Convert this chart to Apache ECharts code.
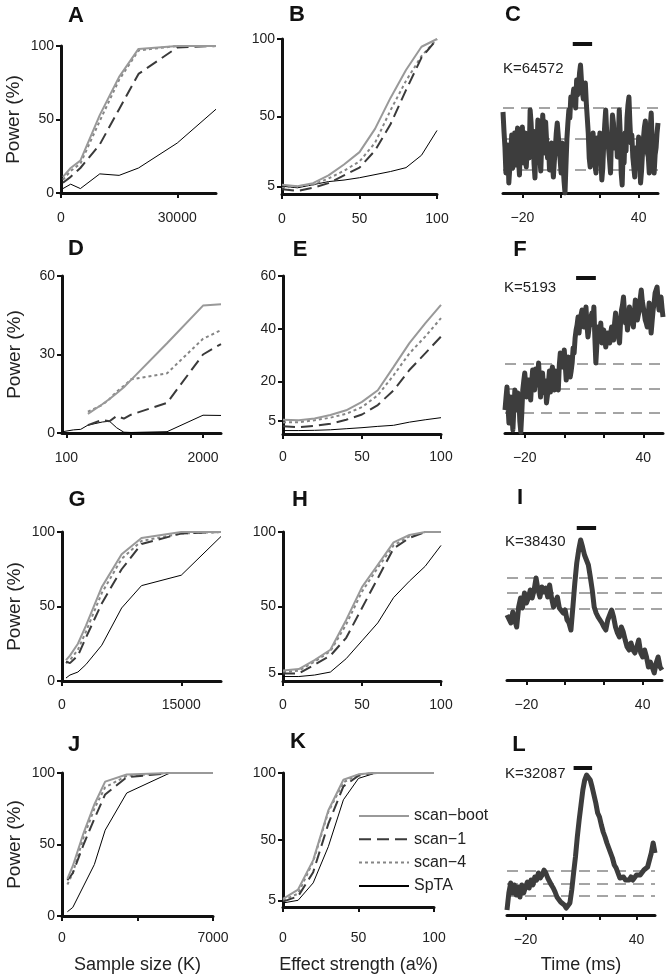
<!DOCTYPE html>
<html><head><meta charset="utf-8">
<script src="https://cdn.jsdelivr.net/npm/echarts@6/dist/echarts.min.js"></script>
<style>html,body{margin:0;padding:0;background:#fff}#c{width:666px;height:977px}</style>
</head><body><div id="c"></div>
<script>
const FONT = '"Liberation Sans", Arial, Helvetica, sans-serif';
const NAMES = ['scan−boot', 'scan−1', 'scan−4', 'SpTA'];

// ---- Panel A (sample size) ----
const A_x = [500, 2500, 5000, 10000, 15000, 20000, 30000, 40000];
const A_boot = [11, 17, 22, 53, 79, 98, 100, 100];
const A_scan1 = [7, 11, 17, 33, 57, 81, 99, 100];
const A_scan4 = [9, 15, 20, 49, 77, 97, 100, 100];
const A_spta = [3, 6, 3, 13, 12, 17, 34, 57];
// ---- Panel B (effect strength) ----
const B_x = [0, 10, 20, 30, 40, 50, 60, 70, 80, 90, 100];
const B_boot = [6, 5, 7, 12, 19, 27, 42, 62, 80, 95, 100];
const B_scan1 = [3, 2, 4, 7, 12, 17, 28, 45, 67, 88, 100];
const B_scan4 = [4, 5, 6, 10, 15, 21, 33, 54, 73, 89, 100];
const B_spta = [5, 4, 6, 8, 9, 10.5, 12.5, 14.5, 17, 25, 41];
// ---- Panel D ----
const D_x = [50, 200, 300, 400, 600, 700, 800, 900, 1000, 1500, 2000, 2250];
const D_boot = [null, null, null, 7.3, 11, 13, 15.2, 17.5, 20.3, 34.3, 48.7, 49.2];
const D_scan1 = [null, null, null, 3, 5, 4.5, 6.5, 5.5, 7, 11.5, 30, 34];
const D_scan4 = [null, null, null, 8.2, 10.7, 13, 15.8, 18, 20.5, 22.8, 36, 39.3];
const D_spta = [0.5, 1.2, 1.4, 3, 4.2, 4.5, 2, 0.3, 0.2, 0.5, 6.8, 6.7];
// ---- Panel E ----
const E_x = [0, 10, 20, 30, 40, 50, 60, 70, 80, 90, 100];
const E_boot = [5.4, 5.2, 5.9, 7.2, 9, 12.2, 16.6, 25.5, 34.5, 42, 49];
const E_scan1 = [2.9, 2.6, 3.1, 3.9, 5.4, 7.4, 11, 16.6, 24.3, 30.6, 37];
const E_scan4 = [4.4, 4.5, 5.2, 6.2, 7.7, 10.2, 14.7, 22.3, 30.6, 37, 44];
const E_spta = [1.3, 1.3, 1.4, 1.6, 2, 2.4, 2.9, 3.3, 4.5, 5.4, 6.2];
// ---- Panel G ----
const G_x = [500, 1000, 2000, 3000, 5000, 7500, 10000, 15000, 20000];
const G_boot = [14, 17, 25, 37, 63, 85, 96, 100, 100];
const G_scan1 = [13, 12, 17, 29, 52, 75, 92, 99, 100];
const G_scan4 = [12, 14, 21, 33, 59, 82, 94, 99, 100];
const G_spta = [2, 4, 6, 11, 24, 49, 64, 71, 97];
// ---- Panel H ----
const H_x = [0, 10, 20, 30, 40, 50, 60, 70, 80, 90, 100];
const H_boot = [7, 8, 14, 21, 41, 63, 78, 93, 98, 100, 100];
const H_scan1 = [5, 5, 11, 17, 29, 49, 69, 89, 96, 100, 100];
const H_scan4 = [6, 7, 13, 20, 38, 60, 76, 91, 97, 100, 100];
const H_spta = [3, 3, 4, 6, 15, 27, 39, 56, 67, 77, 91];
// ---- Panel J ----
const J_x = [250, 500, 1000, 1500, 2000, 3000, 5000, 7000];
const J_boot = [26, 35, 58, 78, 94, 99, 100, 100];
const J_scan1 = [25, 30, 50, 68, 85, 97, 100, 100];
const J_scan4 = [22, 30, 55, 75, 90, 98, 100, 100];
const J_spta = [3, 6, 21, 36, 60, 86, 100, 100];
// ---- Panel K ----
const K_x = [0, 10, 20, 30, 40, 50, 60, 70, 80, 90, 100];
const K_boot = [6, 13, 35, 72, 95, 99, 100, 100, 100, 100, 100];
const K_scan1 = [4, 8, 26, 62, 90, 98, 100, 100, 100, 100, 100];
const K_scan4 = [5, 10, 34, 71, 93, 99, 100, 100, 100, 100, 100];
const K_spta = [3, 5, 18, 45, 80, 96, 99.5, 100, 100, 100, 100];

// ---- Example traces (time in ms, arbitrary amplitude units) ----
const T_half = [-30,-29.5,-29,-28.5,-28,-27.5,-27,-26.5,-26,-25.5,-25,-24.5,-24,-23.5,-23,-22.5,-22,-21.5,-21,-20.5,
  -20,-19.5,-19,-18.5,-18,-17.5,-17,-16.5,-16,-15.5,-15,-14.5,-14,-13.5,-13,-12.5,-12,-11.5,-11,-10.5,
  -10,-9.5,-9,-8.5,-8,-7.5,-7,-6.5,-6,-5.5,-5,-4.5,-4,-3.5,-3,-2.5,-2,-1.5,-1,-0.5,
  0,0.5,1,1.5,2,2.5,3,3.5,4,4.5,5,5.5,6,6.5,7,7.5,8,8.5,9,9.5,
  10,10.5,11,11.5,12,12.5,13,13.5,14,14.5,15,15.5,16,16.5,17,17.5,18,18.5,19,19.5,
  20,20.5,21,21.5,22,22.5,23,23.5,24,24.5,25,25.5,26,26.5,27,27.5,28,28.5,29,29.5,
  30,30.5,31,31.5,32,32.5,33,33.5,34,34.5,35,35.5,36,36.5,37,37.5,38,38.5,39,39.5,
  40,40.5,41,41.5,42,42.5,43,43.5,44,44.5,45,45.5,46,46.5,47,47.5,48,48.5,49,49.5,50];
const T_one = [-30,-29,-28,-27,-26,-25,-24,-23,-22,-21,-20,-19,-18,-17,-16,-15,-14,-13,-12,-11,
  -10,-9,-8,-7,-6,-5,-4,-3,-2,-1,0,1,2,3,4,5,6,7,8,9,10,11,12,13,14,15,16,17,18,19,
  20,21,22,23,24,25,26,27,28,29,30,31,32,33,34,35,36,37,38,39,40,41,42,43,44,45,46,47,48,49,50];
const C_trace = [81,62,46,20,30,48,10,25,40,58,25,38,60,28,45,65,33,18,55,40,
  66,30,40,60,26,45,55,35,83,70,50,62,30,15,55,42,73,55,36,22,
  50,78,60,40,71,52,35,48,23,40,50,30,16,32,45,60,70,58,45,33,
  20,50,30,12,0,28,55,70,83,75,96,88,90,104,93,85,113,98,105,120,
  128,112,100,94,105,110,90,75,60,35,26,40,53,60,35,28,20,55,45,30,
  60,38,13,25,50,68,83,62,50,44,33,20,55,78,70,50,45,58,36,52,
  83,60,20,8,40,30,60,42,75,88,96,70,50,58,36,26,16,45,40,30,
  56,33,10,22,40,55,66,72,50,40,36,20,66,80,50,30,20,38,45,60,70];
const F_trace = [23,35,46,28,10,22,36,18,3,25,43,30,23,40,36,12,1,20,43,52,
  60,48,36,45,53,40,33,50,63,55,43,64,56,48,70,52,36,50,60,46,
  40,52,30,38,50,62,41,55,66,50,43,62,56,48,43,68,80,72,66,75,
  83,68,53,64,76,66,56,62,70,85,80,95,103,108,116,100,113,118,123,112,
  106,118,126,108,96,104,113,116,120,108,126,95,70,88,106,98,93,110,90,95,
  103,96,86,92,100,95,90,100,106,98,93,110,120,112,103,96,90,110,123,128,
  136,120,110,118,103,115,126,120,113,110,106,120,133,122,113,118,123,135,143,132,
  126,120,113,110,106,118,130,115,100,112,123,130,140,142,146,132,123,128,136,125,116];
const I_trace = [65,63,57,68,60,53,73,82,72,87, 77,82,90,82,90,102,90,83,93,88,
  92,83,95,82,73,78,83,72,73,67, 70,60,57,50,73,97,117,130,140,133,
  125,120,115,103,90,73,67,63,62,57, 53,50,60,65,70,63,53,47,43,53,
  48,40,33,30,37,30,27,33,40,27, 23,30,23,13,18,20,7,17,23,13, 10];
const L_trace = [5,22,32,22,30,20,28,18,30,22, 28,33,27,35,30,38,35,42,37,40,
  45,42,37,35,30,27,23,18,17,13, 15,10,7,5,12,25,42,58,78,95,
  110,125,135,140,142,135,128,120,112,102, 98,90,83,78,72,67,62,57,50,47,
  42,37,35,38,35,37,35,38,35,37, 40,38,40,38,45,43,48,55,62,72, 62];
const C_thr = [23, 54, 85], F_thr = [20, 44, 69], I_thr = [71, 87, 102], L_thr = [19, 31, 44];
const BAR_T = [6, 16];
const C_barY = 149, F_barY = 155, I_barY = 152, L_barY = 147;
const K_LABELS = ['K=64572', 'K=5193', 'K=38430', 'K=32087'];

// ---- layout ----
const GRIDS = [
  [61, 46, 155, 147],   // A
  [282, 39, 155, 155],  // B
  [503, 33, 155, 160],  // C
  [62, 276, 159, 157],  // D
  [283, 276, 158, 158], // E
  [505, 273, 158, 160], // F
  [62, 532, 159, 149],  // G
  [283, 532, 158, 149], // H
  [507, 520, 155, 160], // I
  [62, 773, 151, 143],  // J
  [283, 773, 151, 134], // K
  [507, 755, 148, 160]  // L
];

const pairs = (xs, ys) => ys.map((y, i) => (y == null ? null : [xs[i], y]));
const minus = v => String(v).replace('-', '−');

function xAx(i, min, max, ticks, labels, margin, name, nameGap) {
  return {
    gridIndex: i, type: 'value', min, max,
    axisLine: { show: true, onZero: false, lineStyle: { color: '#111', width: 3 } },
    axisTick: { show: true, length: 5, lineStyle: { color: '#111', width: 2 }, customValues: ticks },
    axisLabel: { customValues: labels, margin, fontSize: 14, color: '#222', fontFamily: FONT, formatter: minus },
    splitLine: { show: false },
    name: name || '', nameLocation: 'middle', nameGap: nameGap || 40,
    nameTextStyle: { fontSize: 18, color: '#222', fontFamily: FONT }
  };
}
function yAx(i, min, max, ticks, name) {
  if (!ticks) return { gridIndex: i, type: 'value', min, max, show: false };
  return {
    gridIndex: i, type: 'value', min, max,
    axisLine: { show: true, lineStyle: { color: '#111', width: 3 } },
    axisTick: { show: true, length: 5, lineStyle: { color: '#111', width: 2 }, customValues: ticks },
    axisLabel: { customValues: ticks, margin: 7, fontSize: 14, color: '#222', fontFamily: FONT },
    splitLine: { show: false },
    name: name || '', nameLocation: 'middle', nameGap: 38,
    nameTextStyle: { fontSize: 19, color: '#222', fontFamily: FONT }
  };
}
const P = 'Power (%)';
const xAxes = [
  xAx(0, 0, 40000, [0, 30000], [0, 30000], 18),
  xAx(1, 0, 100, [0, 50, 100], [0, 50, 100], 18),
  xAx(2, -30, 50, [-20, 0, 20, 40], [-20, 40], 18),
  xAx(3, 40, 2250, [100, 1000, 2000], [100, 2000], 18),
  xAx(4, 0, 100, [0, 50, 100], [0, 50, 100], 16),
  xAx(5, -30, 50, [-20, 0, 20, 40], [-20, 40], 18),
  xAx(6, 0, 20000, [0, 15000], [0, 15000], 17),
  xAx(7, 0, 100, [0, 50, 100], [0, 50, 100], 17),
  xAx(8, -30, 50, [-20, 0, 20, 40], [-20, 40], 18),
  xAx(9, 0, 7000, [0, 3500, 7000], [0, 7000], 15, 'Sample size (K)', 40),
  xAx(10, 0, 100, [0, 50, 100], [0, 50, 100], 24, 'Effect strength (a%)', 49),
  xAx(11, -30, 50, [-20, 0, 20, 40], [-20, 40], 18, 'Time (ms)', 41)
];
const yAxes = [
  yAx(0, 0, 100, [0, 50, 100], P),
  yAx(1, 0, 100, [5, 50, 100]),
  yAx(2, 0, 160),
  yAx(3, 0, 60, [0, 30, 60], P),
  yAx(4, 0, 60, [5, 20, 40, 60]),
  yAx(5, 0, 160),
  yAx(6, 0, 100, [0, 50, 100], P),
  yAx(7, 0, 100, [5, 50, 100]),
  yAx(8, 0, 160),
  yAx(9, 0, 100, [0, 50, 100], P),
  yAx(10, 0, 100, [5, 50, 100]),
  yAx(11, 0, 160)
];

const STYLES = [
  { color: '#999999', width: 2, type: 'solid' },
  { color: '#3a3a3a', width: 2, type: [12, 6] },
  { color: '#858585', width: 2, type: [3, 3] },
  { color: '#000000', width: 1, type: 'solid' }
];
const series = [];
function power(gi, xs, sets) {
  sets.forEach((ys, k) => series.push({
    type: 'line', name: NAMES[k], xAxisIndex: gi, yAxisIndex: gi,
    data: pairs(xs, ys), symbol: 'none', lineStyle: STYLES[k], itemStyle: { color: STYLES[k].color },
    z: 4 - k, silent: true
  }));
}
power(0, A_x, [A_boot, A_scan1, A_scan4, A_spta]);
power(1, B_x, [B_boot, B_scan1, B_scan4, B_spta]);
power(3, D_x, [D_boot, D_scan1, D_scan4, D_spta]);
power(4, E_x, [E_boot, E_scan1, E_scan4, E_spta]);
power(6, G_x, [G_boot, G_scan1, G_scan4, G_spta]);
power(7, H_x, [H_boot, H_scan1, H_scan4, H_spta]);
power(9, J_x, [J_boot, J_scan1, J_scan4, J_spta]);
power(10, K_x, [K_boot, K_scan1, K_scan4, K_spta]);

function trace(gi, ts, vals, thr, barY) {
  thr.forEach(v => series.push({
    type: 'line', xAxisIndex: gi, yAxisIndex: gi, data: [[ts[0], v], [ts[ts.length - 1], v]],
    symbol: 'none', lineStyle: { color: '#4a4a4a', width: 1, type: [11, 7] }, z: 1, silent: true
  }));
  series.push({
    type: 'line', xAxisIndex: gi, yAxisIndex: gi, data: pairs(ts, vals),
    symbol: 'none', lineStyle: { color: '#3d3d3d', width: 5, join: 'round' }, z: 2, silent: true
  });
  series.push({
    type: 'line', xAxisIndex: gi, yAxisIndex: gi, data: BAR_T.map(t => [t, barY]),
    symbol: 'none', lineStyle: { color: '#111', width: 4 }, z: 3, silent: true
  });
}
trace(2, T_half, C_trace, C_thr, C_barY);
trace(5, T_half, F_trace, F_thr, F_barY);
trace(8, T_one, I_trace, I_thr, I_barY);
trace(11, T_one, L_trace, L_thr, L_barY);

const LETTERS = [['A', 76, 16], ['B', 297, 15], ['C', 513, 15], ['D', 76, 249], ['E', 300, 250], ['F', 520, 250],
  ['G', 77, 500], ['H', 300, 500], ['I', 520, 498], ['J', 74, 745], ['K', 298, 742], ['L', 519, 745]];
const KPOS = [[503, 69], [504, 288], [505, 542], [505, 774]];
const graphic = LETTERS.map(([t, x, y]) => ({
  type: 'text', x, y, silent: true,
  style: { text: t, font: 'bold 22px ' + FONT, fill: '#111', textAlign: 'center', textVerticalAlign: 'middle' }
})).concat(K_LABELS.map((t, i) => ({
  type: 'text', x: KPOS[i][0], y: KPOS[i][1], silent: true,
  style: { text: t, font: '15px ' + FONT, fill: '#222', textAlign: 'left', textVerticalAlign: 'middle' }
})));

const chart = echarts.init(document.getElementById('c'), null, { renderer: 'canvas' });
chart.setOption({
  animation: false,
  backgroundColor: '#fff',
  textStyle: { fontFamily: FONT },
  grid: GRIDS.map(g => ({ left: g[0], top: g[1], width: g[2], height: g[3], containLabel: false })),
  xAxis: xAxes,
  yAxis: yAxes,
  series,
  legend: {
    data: NAMES, orient: 'vertical', left: 353, top: 803, itemWidth: 50, itemHeight: 16, itemGap: 7.3,
    selectedMode: false, itemStyle: { opacity: 0 },
    textStyle: { fontSize: 16, color: '#222', fontFamily: FONT }
  },
  graphic
});
</script></body></html>
